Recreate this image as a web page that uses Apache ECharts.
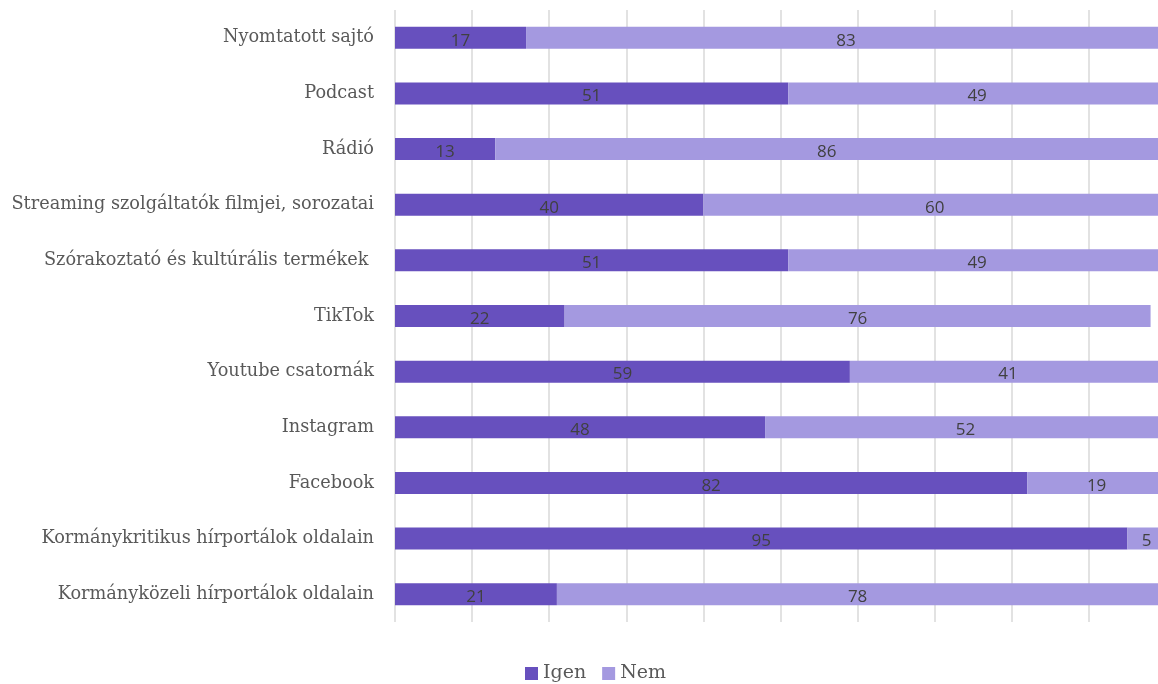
<!DOCTYPE html>
<html>
<head>
<meta charset="utf-8">
<script src="https://cdn.jsdelivr.net/npm/echarts@6/dist/echarts.min.js"></script>
<style>html,body{margin:0;padding:0;background:#fff;overflow:hidden;width:1158px;height:684px}#c{width:1166px;height:684px}</style>
</head>
<body>
<div id="c"></div>
<script>
const categories = ["Nyomtatott sajtó","Podcast","Rádió","Streaming szolgáltatók filmjei, sorozatai","Szórakoztató és kultúrális termékek ","TikTok","Youtube csatornák","Instagram","Facebook","Kormánykritikus hírportálok oldalain","Kormányközeli hírportálok oldalain"];
const igen = [17,51,13,40,51,22,59,48,82,95,21];
const nem = [83,49,86,60,49,76,41,52,19,5,78];
const seriesNames = ["Igen","Nem"];

const chart = echarts.init(document.getElementById('c'));
const font = "'DejaVu Serif', serif";
const lbl = {show:true, position:'inside', color:'#404040', fontSize:17, fontFamily:"'Open Sans', sans-serif", offset:[0,3]};
chart.setOption({
  animation:false,
  textStyle:{fontFamily:font},
  grid:{left:395, right:0, top:10, bottom:62, containLabel:false},
  legend:{top:659, left:520, itemWidth:13, itemHeight:13, itemGap:16,
    textStyle:{fontSize:19, color:'#595959', fontFamily:font}, icon:'rect'},
  xAxis:{type:'value', min:0, max:100, interval:10,
    axisLabel:{show:false}, axisLine:{show:false}, axisTick:{show:false},
    splitLine:{show:true, lineStyle:{color:'#d9d9d9', width:1.5}}},
  yAxis:{type:'category', inverse:true, data:categories,
    axisLine:{show:false}, axisTick:{show:false},
    axisLabel:{color:'#595959', fontSize:17.7, fontFamily:font, margin:21}},
  series:[
    {name:seriesNames[0], type:'bar', stack:'s', data:igen, barWidth:22,
     itemStyle:{color:'#6750be'}, label:lbl},
    {name:seriesNames[1], type:'bar', stack:'s', data:nem, barWidth:22,
     itemStyle:{color:'#a499e0'}, label:lbl}
  ]
});
</script>
</body>
</html>
